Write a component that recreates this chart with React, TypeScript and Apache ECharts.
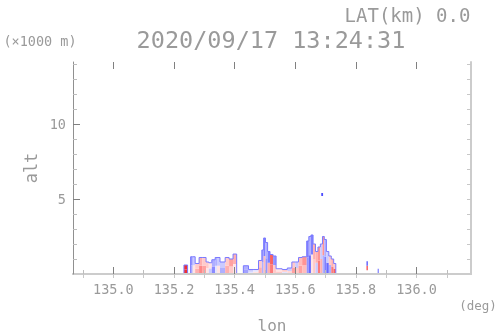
import React, { useEffect, useRef } from 'react';
import * as echarts from 'echarts';

// Column left edges (deg lon), the last column ends at colEnd
const colLon = [135.233, 135.245, 135.255, 135.262, 135.270, 135.283, 135.293, 135.306, 135.315, 135.325, 135.336, 135.342, 135.352, 135.369, 135.382, 135.395, 135.407, 135.429, 135.446, 135.461, 135.479, 135.490, 135.496, 135.502, 135.509, 135.517, 135.527, 135.537, 135.557, 135.574, 135.589, 135.600, 135.611, 135.623, 135.638, 135.645, 135.652, 135.659, 135.667, 135.675, 135.683, 135.690, 135.696, 135.703, 135.711, 135.719, 135.727];
const colEnd = 135.734;
// Column top altitude (x1000 m)
const colTop = [0.6, 0, 1.15, 1.15, 0.7, 1.1, 1.1, 0.8, 0.75, 0.95, 1.1, 1.1, 0.8, 1.1, 1.0, 1.33, 0, 0.55, 0.3, 0.3, 0.9, 1.6, 2.4, 2.1, 1.5, 1.3, 1.2, 0.35, 0.3, 0.4, 0.8, 0.8, 1.1, 1.15, 2.2, 2.5, 2.6, 2.0, 1.5, 1.8, 2.0, 2.5, 2.3, 1.5, 1.2, 1.0, 0.7];
// Values in lower and upper half of each column (-1 blue .. +1 red)
const colLow = [0.8, 0, -0.3, 0.1, 0.3, 0.45, 0.35, 0.1, -0.2, -0.45, -0.1, 0.1, -0.3, 0.3, 0.2, 0.1, 0, -0.35, -0.1, 0.1, 0.3, -0.3, 0.25, -0.4, 0.3, 0.5, 0.2, 0.2, -0.1, 0.15, 0.35, 0.2, 0.35, 0.25, -0.4, -0.6, 0.1, 0.2, -0.2, 0.5, 0.3, -0.3, -0.5, -0.6, -0.3, 0.5, 0.6];
const colHigh = [0.8, 0, -0.4, -0.2, 0.2, 0.3, 0.2, 0.2, 0.1, -0.3, -0.3, -0.2, -0.2, 0.2, 0.35, 0.3, 0, -0.3, -0.2, -0.1, 0.2, -0.4, -0.5, -0.3, -0.5, 0.6, -0.4, 0.1, 0.2, -0.2, 0.2, -0.2, 0.25, 0.4, -0.5, -0.3, -0.5, 0.3, 0.3, 0.4, -0.2, 0.4, -0.3, -0.2, 0.2, 0.3, 0.2];

// Isolated echoes
const spotLon0 = [135.835, 135.835, 135.872, 135.686];
const spotLon1 = [135.840, 135.840, 135.876, 135.692];
const spotAlt0 = [0.25, 0.55, 0.0, 5.2];
const spotAlt1 = [0.55, 0.85, 0.35, 5.4];
const spotVal = [0.6, -0.6, -0.5, -0.75];

// Axis ticks and labels
const xLabels = [135.0, 135.2, 135.4, 135.6, 135.8, 136.0];
const xMinorTicks = [134.9, 135.0, 135.1, 135.2, 135.3, 135.4, 135.5, 135.6, 135.7, 135.8, 135.9, 136.0, 136.1];
const yLabels = [5, 10];
const yMinorTicks = [1, 2, 3, 4, 5, 6, 7, 8, 9, 10, 11, 12, 13, 14];

const X_MIN = 134.867;
const X_MAX = 136.18;
const Y_MIN = 0;
const Y_MAX = 14.13;

const FONT = '"DejaVu Sans Mono", monospace';
const TXT = '#9a9a9a';

export default function App() {
  const ref = useRef<HTMLDivElement>(null);
  useEffect(() => {
    if (!ref.current) return;
    const chart = echarts.init(ref.current, undefined, { renderer: 'svg' });

    const cells: number[][] = [];
    for (let i = 0; i < colLon.length; i++) {
      const t = colTop[i];
      if (!t) continue;
      const l0 = colLon[i];
      const l1 = i + 1 < colLon.length ? colLon[i + 1] : colEnd;
      cells.push([l0, l1, 0, t / 2, colLow[i]]);
      cells.push([l0, l1, t / 2, t, colHigh[i]]);
    }
    for (let i = 0; i < spotLon0.length; i++) {
      cells.push([spotLon0[i], spotLon1[i], spotAlt0[i], spotAlt1[i], spotVal[i]]);
    }

    const outline: (number[])[] = [[colLon[0], 0]];
    for (let i = 0; i < colLon.length; i++) outline.push([colLon[i], colTop[i]]);
    outline.push([colEnd, 0]);

    const baseX = { type: 'value', min: X_MIN, max: X_MAX, splitLine: { show: false } };
    const baseY = { type: 'value', min: Y_MIN, max: Y_MAX, splitLine: { show: false } };

    chart.setOption({
      animation: false,
      grid: { left: 73, top: 62, right: 27, bottom: 62 },
      xAxis: [
        {
          ...baseX, position: 'bottom', z: 5,
          axisLine: { show: true, lineStyle: { color: '#cccccc', width: 2 } },
          axisTick: { show: true, inside: true, length: 4, customValues: xMinorTicks, lineStyle: { color: '#bdbdbd' } },
          axisLabel: { show: true, customValues: xLabels, formatter: (v: number) => v.toFixed(1), color: TXT, fontFamily: FONT, fontSize: 13.5, margin: 8 },
        },
        {
          ...baseX, position: 'bottom', z: 6,
          axisLine: { show: false },
          axisTick: { show: true, inside: true, length: 7, customValues: xLabels, lineStyle: { color: '#808080' } },
          axisLabel: { show: false },
        },
        {
          ...baseX, position: 'top', z: 5,
          axisLine: { show: true, lineStyle: { color: '#cccccc', width: 2 } },
          axisTick: { show: true, inside: true, length: 4, customValues: xMinorTicks, lineStyle: { color: '#c8c8c8' } },
          axisLabel: { show: false },
        },
        {
          ...baseX, position: 'top', z: 6,
          axisLine: { show: false },
          axisTick: { show: true, inside: true, length: 7, customValues: xLabels, lineStyle: { color: '#808080' } },
          axisLabel: { show: false },
        },
      ],
      yAxis: [
        {
          ...baseY, position: 'left', z: 6,
          axisLine: { show: true, lineStyle: { color: '#909090', width: 1 } },
          axisTick: { show: true, inside: true, length: 4, customValues: yMinorTicks, lineStyle: { color: '#bdbdbd' } },
          axisLabel: { show: true, customValues: yLabels, color: TXT, fontFamily: FONT, fontSize: 13.5, margin: 7 },
        },
        {
          ...baseY, position: 'left', z: 7,
          axisLine: { show: false },
          axisTick: { show: true, inside: true, length: 7, customValues: yLabels, lineStyle: { color: '#808080' } },
          axisLabel: { show: false },
        },
        {
          ...baseY, position: 'right', z: 5,
          axisLine: { show: true, lineStyle: { color: '#cccccc', width: 2 } },
          axisTick: { show: true, inside: true, length: 4, customValues: yMinorTicks, lineStyle: { color: '#c8c8c8' } },
          axisLabel: { show: false },
        },
      ],
      visualMap: {
        show: false,
        type: 'continuous',
        seriesIndex: 0,
        dimension: 4,
        min: -0.8,
        max: 0.8,
        inRange: { color: ['#4040ff', '#9494ff', '#ffffff', '#ff9494', '#f03030'] },
      },
      series: [
        {
          type: 'custom',
          xAxisIndex: 0,
          yAxisIndex: 0,
          data: cells,
          encode: { x: [0, 1], y: [2, 3] },
          renderItem: (params: any, api: any) => {
            const p0 = api.coord([api.value(0), api.value(3)]);
            const p1 = api.coord([api.value(1), api.value(2)]);
            return {
              type: 'rect',
              shape: { x: p0[0], y: p0[1], width: p1[0] - p0[0], height: p1[1] - p0[1] },
              style: { fill: api.visual('color') },
            };
          },
        },
        {
          type: 'line',
          xAxisIndex: 0,
          yAxisIndex: 0,
          step: 'end',
          showSymbol: false,
          symbol: 'none',
          data: outline,
          lineStyle: { color: '#7a7aff', width: 1 },
          z: 3,
        },
      ],
      graphic: [
        { type: 'text', x: 407.5, y: 15, style: { text: 'LAT(km) 0.0', fill: TXT, font: `19px ${FONT}`, align: 'center', verticalAlign: 'middle' } },
        { type: 'text', x: 271, y: 40, style: { text: '2020/09/17 13:24:31', fill: TXT, font: `23.5px ${FONT}`, align: 'center', verticalAlign: 'middle' } },
        { type: 'text', x: 40, y: 41, style: { text: '(×1000 m)', fill: TXT, font: `13.5px ${FONT}`, align: 'center', verticalAlign: 'middle' } },
        { type: 'text', x: 31, y: 168, rotation: Math.PI / 2, style: { text: 'alt', fill: TXT, font: `17px ${FONT}`, align: 'center', verticalAlign: 'middle' } },
        { type: 'text', x: 478, y: 305, style: { text: '(deg)', fill: TXT, font: `12.5px ${FONT}`, align: 'center', verticalAlign: 'middle' } },
        { type: 'text', x: 272, y: 325, style: { text: 'lon', fill: TXT, font: `16px ${FONT}`, align: 'center', verticalAlign: 'middle' } },
      ],
    });
    return () => chart.dispose();
  }, []);
  return <div ref={ref} style={{ position: 'fixed', left: 0, top: 0, width: 498, height: 336 }} />;
}
